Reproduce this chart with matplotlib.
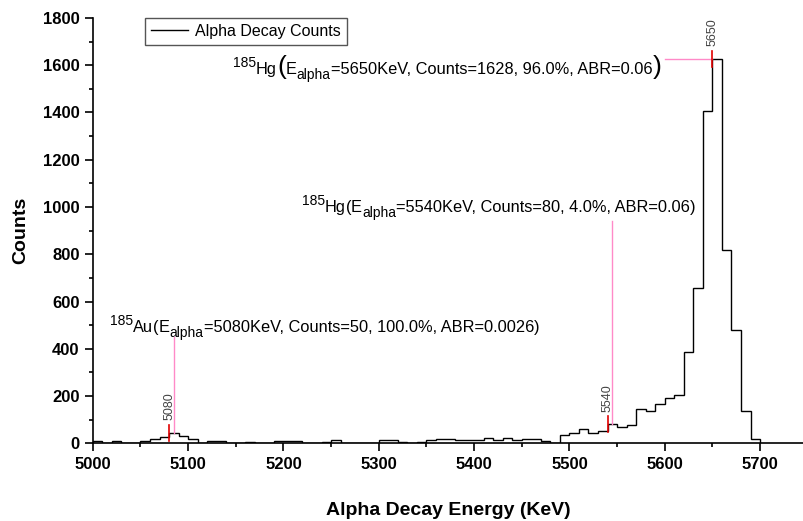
import numpy as np
import matplotlib
matplotlib.use("Agg")
import matplotlib.pyplot as plt
from matplotlib.ticker import MultipleLocator

plt.rcParams['font.family'] = ['Liberation Sans', 'DejaVu Sans']

# histogram, 10 KeV bins from 5000 to 5700
binStart = 5000
binWidth = 10
binCounts = [
    8, 0, 8, 2, 2, 10, 20, 28, 45, 32,          # 5000-5090
    18, 2, 8, 8, 2, 1, 4, 1, 1, 8,              # 5100-5190
    8, 8, 3, 3, 7, 12, 2, 2, 2, 2,              # 5200-5290
    12, 12, 7, 3, 6, 12, 19, 18, 15, 15,        # 5300-5390
    12, 21, 13, 22, 12, 20, 20, 8, 3, 37,       # 5400-5490
    45, 60, 45, 52, 82, 71, 77, 145, 135, 165,  # 5500-5590
    193, 205, 386, 658, 1407, 1628, 817, 481, 138, 17,  # 5600-5690
]

# labelled peaks
peakEnergies = [5080, 5540, 5650]
peakCounts = [50, 80, 1628]
peakShares = ["100.0%", "4.0%", "96.0%"]
peakABR = ["0.0026", "0.06", "0.06"]
peakNuclides = ["Au", "Hg", "Hg"]

edges = binStart + binWidth * np.arange(len(binCounts) + 1)
counts = np.array(binCounts)

fig = plt.figure(figsize=(8.04, 5.21), dpi=100)
ax = fig.add_axes([0.1154, 0.1491, 0.8833, 0.8164])

ax.stairs(counts, edges, color='black', lw=1.0, label="Alpha Decay Counts")

ax.set_xlim(5000, 5745)
ax.set_ylim(0, 1800)
ax.xaxis.set_major_locator(MultipleLocator(100))
ax.xaxis.set_minor_locator(MultipleLocator(50))
ax.yaxis.set_major_locator(MultipleLocator(200))
ax.yaxis.set_minor_locator(MultipleLocator(100))
for side in ['top', 'right']:
    ax.spines[side].set_visible(False)
for side in ['left', 'bottom']:
    ax.spines[side].set_linewidth(1.2)
ax.tick_params(which='major', direction='out', length=6, width=1.2, labelsize=12)
ax.tick_params(which='minor', direction='out', length=3, width=1.2)
for lbl in ax.get_xticklabels() + ax.get_yticklabels():
    lbl.set_fontweight('bold')

ax.set_xlabel("Alpha Decay Energy (KeV)", fontsize=14, fontweight='bold', labelpad=22)
ax.set_ylabel("Counts", fontsize=14, fontweight='bold', labelpad=10)

leg = ax.legend(loc='upper left', bbox_to_anchor=(0.0735, 1.0), borderaxespad=0,
                fontsize=11.5, fancybox=False, framealpha=1, edgecolor='#555555',
                handlelength=2.3, borderpad=0.38, handletextpad=0.45)
leg.get_frame().set_linewidth(1.0)

pink = '#ff8ac8'
markRed = '#e00000'
half = 34  # half length of the red marker, in counts

for i, e in enumerate(peakEnergies):
    binTop = counts[(e - binStart) // binWidth]
    ax.plot([e, e], [binTop - half, binTop + half], color=markRed, lw=1.2, zorder=4)
    ax.text(e, binTop + half + 18, str(e), rotation=90, ha='center', va='bottom',
            fontsize=9, color='#444444')

fig.canvas.draw()
renderer = fig.canvas.get_renderer()


def chainText(x, y, parts):
    # parts: (text, fontsize, rise in pixels); drawn one after another on a baseline
    xd, yd = ax.transData.transform((x, y))
    for txt, fs, rise in parts:
        t = ax.text(xd, yd + rise, txt, fontsize=fs, ha='left', va='baseline',
                    transform=None)
        xd = t.get_window_extent(renderer).x1
    return ax.transData.inverted().transform((xd, yd))[0]


def labelParts(i, bigBrackets=False):
    mainFs, smallFs = 11.8, 10
    body = "=%dKeV, Counts=%d, %s, ABR=%s" % (peakEnergies[i], peakCounts[i],
                                              peakShares[i], peakABR[i])
    openB = ("(", 19, 0) if bigBrackets else ("(", mainFs, 0)
    closeB = (")", 19, 0) if bigBrackets else (")", mainFs, 0)
    return [("185", smallFs, 7), (peakNuclides[i], mainFs, 0), openB,
            ("E", mainFs, 0), ("alpha", smallFs, -5), (body, mainFs, 0), closeB]


chainText(5018, 470, labelParts(0))
chainText(5219, 977, labelParts(1))
endX = chainText(5147, 1562, labelParts(2, bigBrackets=True))

# pink leader lines
top0 = counts[(peakEnergies[0] - binStart) // binWidth]
top1 = counts[(peakEnergies[1] - binStart) // binWidth]
ax.plot([peakEnergies[0] + 5] * 2, [top0, 450], color=pink, lw=1.0, zorder=3)
ax.plot([peakEnergies[1] + 5] * 2, [top1, 940], color=pink, lw=1.0, zorder=3)
ax.plot([endX + 4, peakEnergies[2]], [peakCounts[2]] * 2, color=pink, lw=1.0, zorder=3)

fig.savefig("out.png", dpi=100)
